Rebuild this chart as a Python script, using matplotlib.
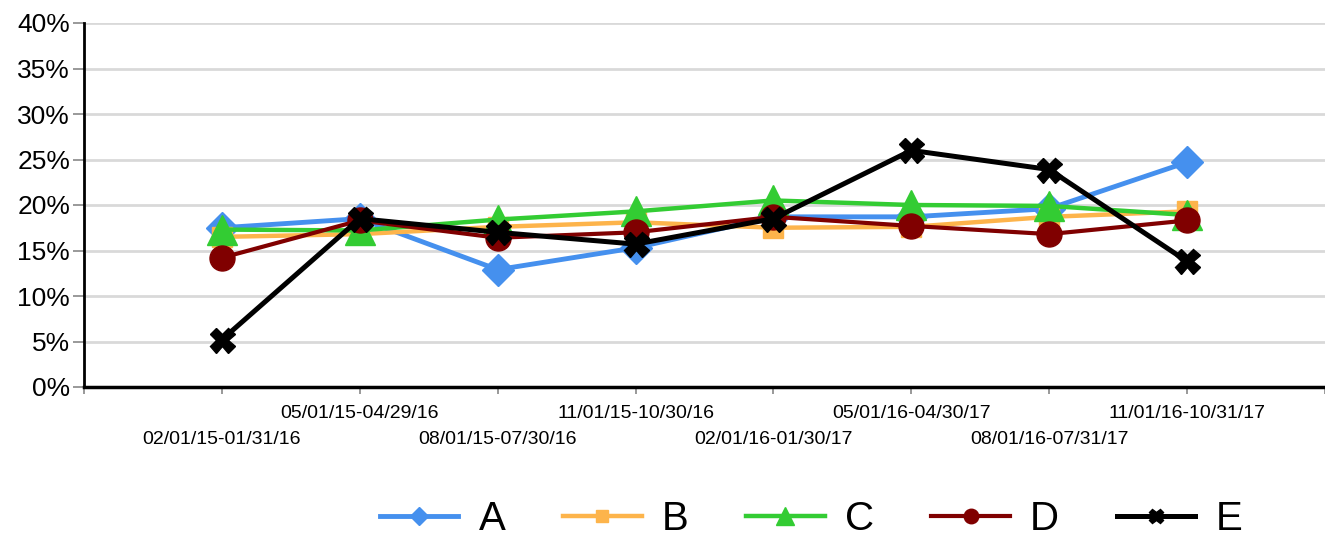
import numpy as np
import matplotlib
matplotlib.use("Agg")
import matplotlib.pyplot as plt
from matplotlib.ticker import PercentFormatter, FixedLocator

plt.rcParams['font.family'] = ['Liberation Sans', 'DejaVu Sans']

periods = ['02/01/15-01/31/16', '05/01/15-04/29/16', '08/01/15-07/30/16', '11/01/15-10/30/16',
           '02/01/16-01/30/17', '05/01/16-04/30/17', '08/01/16-07/31/17', '11/01/16-10/31/17']

A = [17.5, 18.5, 12.9, 15.3, 18.7, 18.7, 19.6, 24.7]
B = [16.5, 16.8, 17.6, 18.1, 17.5, 17.6, 18.7, 19.3]
C = [17.3, 17.2, 18.4, 19.3, 20.5, 20.0, 19.9, 18.9]
D = [14.2, 18.3, 16.4, 17.0, 18.7, 17.7, 16.8, 18.3]
E = [5.2, 18.5, 17.0, 15.7, 18.5, 26.0, 23.9, 13.8]

# name, values, colour, marker, marker size, line width
series = [
    ('A', A, '#4590EE', 'D', 16, 3.5),
    ('B', B, '#FDB44B', 's', 14, 3.2),
    ('C', C, '#33CC33', '^', 22, 3.2),
    ('D', D, '#800000', 'o', 18, 3.0),
    ('E', E, '#000000', 'X', 18, 3.6),
]

fig = plt.figure(figsize=(13.25, 5.36), dpi=100)
ax = fig.add_axes([84 / 1325, 1 - 387 / 536, 1 - 84 / 1325, (387 - 23) / 536])

X = np.arange(1, len(periods) + 1)
for name, vals, col, mk, ms, lw in series:
    ax.plot(X, vals, color=col, lw=lw, marker=mk, ms=ms, label=name, clip_on=False)

ax.set_xlim(0, len(periods) + 1)
ax.set_ylim(0, 40)
ax.set_yticks(np.arange(0, 41, 5))
ax.yaxis.set_major_formatter(PercentFormatter(decimals=0))
ax.grid(axis='y', color='#d9d9d9', lw=2)
ax.set_axisbelow(True)

# staggered category labels: even positions on the upper row (major),
# odd positions on the lower row (minor)
n = len(periods)
major = np.arange(0, n + 2, 2)
minor = np.arange(1, n + 2, 2)
ax.xaxis.set_major_locator(FixedLocator(major))
ax.xaxis.set_minor_locator(FixedLocator(minor))
ax.set_xticklabels([periods[int(i) - 1] if 1 <= i <= n else '' for i in major], fontsize=14)
ax.set_xticklabels([periods[int(i) - 1] if 1 <= i <= n else '' for i in minor], fontsize=14, minor=True)

ax.tick_params(axis='y', labelsize=19, length=8, color='#888888', width=1.2, pad=2)
ax.tick_params(axis='x', which='major', length=5, color='#888888', width=1.2, pad=8)
ax.tick_params(axis='x', which='minor', length=5, color='#888888', width=1.2, pad=27)

for s in ['top', 'right']:
    ax.spines[s].set_visible(False)
ax.spines['left'].set_linewidth(2)
ax.spines['bottom'].set_linewidth(2.5)

fig.legend(loc='center', bbox_to_anchor=(811 / 1325, 1 - 519 / 536), ncol=5, frameon=False,
           fontsize=29, handlelength=1.95, handletextpad=0.5, columnspacing=1.43, markerscale=0.58)

fig.savefig('out.png', dpi=100)
